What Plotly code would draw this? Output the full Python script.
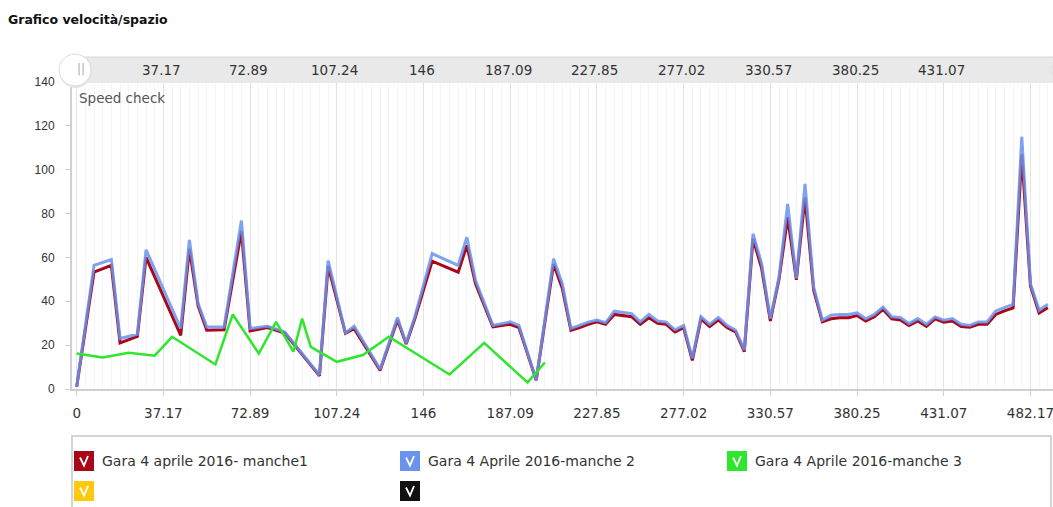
import plotly.graph_objects as go

# ---------------- data ----------------
tick_labels = ["0", "37.17", "72.89", "107.24", "146", "187.09", "227.85",
               "277.02", "330.57", "380.25", "431.07", "482.17"]
tick_index = [0, 10, 20, 30, 40, 50, 60, 70, 80, 90, 100, 110]

series_names = ["Gara 4 aprile 2016- manche1", "Gara 4 Aprile 2016-manche 2",
                "Gara 4 Aprile 2016-manche 3", "", ""]
series_colors = ["#a8071a", "#6a93ee", "#2ee62e", "#ffc90e", "#111111"]

m1_idx = [0, 2, 4, 5, 7, 8, 12, 13, 14, 15, 17, 19, 20, 22, 24, 28, 29, 31, 32, 35,
          37, 38, 39, 41, 44, 45, 46, 48, 50, 51, 53, 55, 56, 57, 58, 59, 60, 61, 62,
          63, 64, 65, 66, 67, 68, 69, 70, 71, 72, 73, 74, 75, 76, 77, 78, 79, 80, 81,
          82, 83, 84, 85, 86, 87, 88, 89, 90, 91, 92, 93, 94, 95, 96, 97, 98, 99, 100,
          101, 102, 103, 104, 105, 106, 107, 108, 109, 110, 111, 112]
m1_val = [1, 53.3, 56.4, 21, 24, 60, 24.5, 64, 38, 26.8, 27, 72, 26.5, 28, 25.5, 6, 56,
          25.4, 27.5, 8.5, 31.5, 20.5, 32, 58.3, 53.3, 65.5, 48, 28.3, 29.5, 28, 4, 57,
          46, 26.8, 28, 29.5, 30.6, 29.5, 34, 33.5, 33, 29.5, 32.5, 30, 29.5, 26, 28,
          13, 32, 28.5, 31.5, 28, 26, 17, 68.5, 55, 31, 50, 78.3, 49.8, 87.4, 45, 30.6,
          32, 32.5, 32.5, 33.5, 31, 33, 36.3, 32, 31.5, 29, 31, 28.5, 32, 30.5, 31,
          28.5, 28.2, 29.5, 29.5, 34, 35.6, 37, 107, 47, 34.7, 37.1]

m2_idx = m1_idx
m2_val = [1, 56.4, 59, 23, 25, 63.5, 27.6, 68, 39, 28.3, 28.3, 76.8, 27.6, 28.6, 26,
          6.4, 58.6, 25.6, 28.6, 9, 32.6, 20.8, 33, 61.7, 56.4, 69.2, 49.5, 29, 30.6,
          29, 4, 59.4, 48, 27.6, 29, 30.5, 31.4, 30.2, 35.5, 35, 34.4, 30.6, 34, 31,
          30.5, 27, 29, 14, 33, 29.5, 32.6, 29, 26.8, 17.7, 70.8, 57.1, 32.1, 51, 84.4,
          50.3, 93.5, 46.5, 31.4, 33.6, 34, 34, 34.7, 32, 34, 37.4, 32.9, 32.6, 29.8,
          32.1, 29.5, 32.9, 31.4, 32.1, 29.5, 29, 30.6, 30.6, 35.6, 37.1, 38.6, 115,
          48, 35.9, 38.6]

m3_idx = [0, 3, 6, 9, 11, 16, 18, 21, 23, 25, 26, 27, 30, 33, 36, 43, 47, 52, 54]
m3_val = [16.2, 14.4, 16.5, 15.2, 23.8, 11.2, 34, 16.2, 30.6, 17, 32.1, 19.2, 12.4,
          15.5, 23.8, 6.6, 21, 3, 12.1]

# ---------------- layout helpers (pixel -> paper) ----------------
W, H = 1053, 507
L, R, T, B = 72, 0, 82, 118
PW, PH = W - L - R, H - T - B


def px(x):
    return (x - L) / PW


def py(y):
    return (H - B - y) / PH


FONT = "DejaVu Sans, Verdana, sans-serif"

fig = go.Figure()
fig.add_trace(go.Scatter(x=m1_idx, y=m1_val, mode="lines", name=series_names[0],
                         line=dict(color=series_colors[0], width=3)))
fig.add_trace(go.Scatter(x=m2_idx, y=m2_val, mode="lines", name=series_names[1],
                         opacity=0.85,
                         line=dict(color=series_colors[1], width=3)))
fig.add_trace(go.Scatter(x=m3_idx, y=m3_val, mode="lines", name=series_names[2],
                         line=dict(color=series_colors[2], width=2.5)))

shapes = []
annotations = []

# navigator bar on top
shapes.append(dict(type="rect", xref="paper", yref="paper",
                   x0=px(75), x1=px(1060), y0=py(83), y1=py(57),
                   fillcolor="#e9e9e9", line=dict(width=0), layer="above"))
shapes.append(dict(type="line", xref="paper", yref="paper",
                   x0=px(75), x1=px(1060), y0=py(57), y1=py(57),
                   line=dict(color="#d6d6d6", width=1)))
for k in range(1, len(tick_labels) - 1):
    annotations.append(dict(x=tick_index[k], xref="x", y=py(70), yref="paper",
                            xshift=-2, text=tick_labels[k], showarrow=False,
                            yanchor="middle",
                            font=dict(family=FONT, size=13.5, color="#333")))
# handles
for cx in (75, 1068):
    shapes.append(dict(type="circle", xref="paper", yref="paper",
                       x0=px(cx - 16), x1=px(cx + 17), y0=py(88), y1=py(54),
                       fillcolor="#e4e4e4", line=dict(width=0)))
    shapes.append(dict(type="circle", xref="paper", yref="paper",
                       x0=px(cx - 16), x1=px(cx + 16), y0=py(86), y1=py(54),
                       fillcolor="white", line=dict(color="#dddddd", width=1)))
annotations.append(dict(x=px(75), xref="paper", y=py(69), yref="paper", text="||",
                        showarrow=False, yanchor="middle",
                        font=dict(family=FONT, size=12, color="#b0b0b0")))

# "Speed check"
annotations.append(dict(x=px(77), xref="paper", y=py(98), yref="paper",
                        text="Speed check", showarrow=False, xanchor="left",
                        yanchor="middle",
                        font=dict(family=FONT, size=13.5, color="#555")))

# legend box
shapes.append(dict(type="rect", xref="paper", yref="paper",
                   x0=px(72), x1=px(1051), y0=py(436), y1=py(540),
                   line=dict(color="#d4d4d4", width=2), fillcolor="rgba(0,0,0,0)"))
legend_pos = [(74, 461), (400, 461), (727, 461), (74, 491), (400, 491)]
for (lx, ly), name, col in zip(legend_pos, series_names, series_colors):
    shapes.append(dict(type="rect", xref="paper", yref="paper",
                       x0=px(lx), x1=px(lx + 20), y0=py(ly + 10), y1=py(ly - 10),
                       fillcolor=col, line=dict(width=0)))
    check = "M {:.5f},{:.5f} L {:.5f},{:.5f} L {:.5f},{:.5f}".format(
        px(lx + 6), py(ly - 3.5), px(lx + 10), py(ly + 4.5), px(lx + 14), py(ly - 5))
    shapes.append(dict(type="path", xref="paper", yref="paper", path=check,
                       line=dict(color="white", width=1.8)))
    if name:
        annotations.append(dict(x=px(lx + 26), xref="paper", y=py(ly), yref="paper",
                                text=name, showarrow=False, xanchor="left",
                                yanchor="middle",
                                font=dict(family=FONT, size=14, color="#333")))

fig.update_layout(
    width=W, height=H,
    margin=dict(l=L, r=R, t=T, b=B),
    paper_bgcolor="white", plot_bgcolor="white",
    showlegend=False,
    title=dict(text="<b>Grafico velocità/spazio</b>", x=8 / W, xanchor="left",
               y=1 - 20 / H, yanchor="middle",
               font=dict(family=FONT, size=12.5, color="#111")),
    xaxis=dict(range=[-0.54, 112.6], tickmode="array", tickvals=tick_index,
               ticktext=tick_labels, showgrid=True, gridcolor="#e3e3e3",
               minor=dict(dtick=1, tick0=0, showgrid=True, gridcolor="#f4f4f4"),
               ticks="outside", ticklen=5, tickcolor="#d0d0d0",
               showline=True, linecolor="#d0d0d0", linewidth=2, zeroline=False,
               ticklabelstandoff=6, ticklabeloverflow="allow",
               tickfont=dict(family=FONT, size=13.5, color="#333")),
    yaxis=dict(range=[0, 140], dtick=20, showgrid=False, ticks="outside",
               ticklen=5, tickcolor="#d0d0d0", showline=True, linecolor="#d0d0d0",
               linewidth=2, zeroline=False, ticklabelstandoff=8,
               tickfont=dict(family="Liberation Sans, Arial, sans-serif", size=12,
                             color="#333")),
    shapes=shapes,
    annotations=annotations,
)

fig.write_html(
    "out.html",
    config={"displayModeBar": False},
    post_script="document.body.style.margin='0';document.body.style.overflow='hidden';",
)
